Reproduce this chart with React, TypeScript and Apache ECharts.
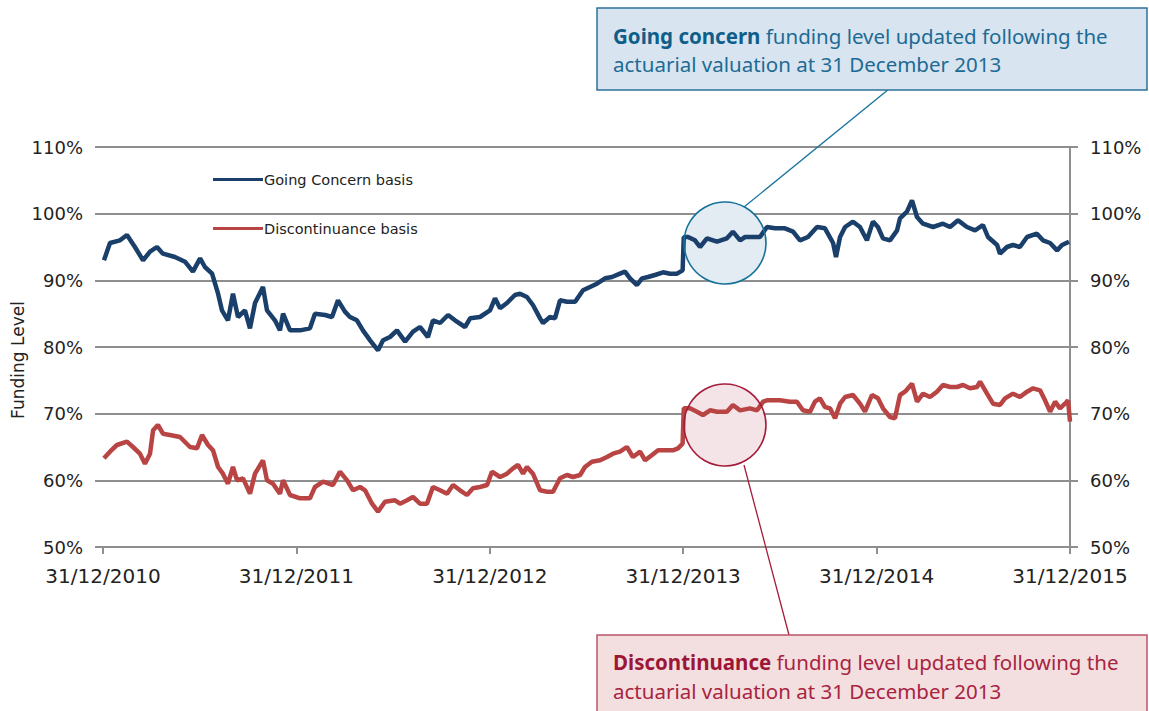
import React, { useEffect, useRef } from 'react';
import * as echarts from 'echarts';

// time in years after 31/12/2010, funding level in %
const goingConcern: [number, number][] = [
  [0.005, 93.0], [0.036, 95.6], [0.088, 96.0], [0.124, 96.8], [0.165, 95.0], [0.207, 93.0], [0.243, 94.3],
  [0.279, 95.0], [0.310, 94.0], [0.372, 93.5], [0.424, 92.8], [0.465, 91.3], [0.502, 93.3], [0.527, 92.0],
  [0.564, 91.0], [0.595, 88.0], [0.615, 85.5], [0.646, 84.0], [0.672, 88.0], [0.698, 84.5], [0.734, 85.5],
  [0.760, 82.8], [0.786, 86.6], [0.827, 89.0], [0.848, 85.5], [0.889, 84.0], [0.915, 82.5], [0.931, 85.0],
  [0.967, 82.5], [1.019, 82.5], [1.070, 82.8], [1.096, 85.0], [1.148, 84.8], [1.184, 84.5], [1.215, 87.0],
  [1.251, 85.3], [1.277, 84.5], [1.313, 84.0], [1.344, 82.5], [1.381, 81.0], [1.422, 79.5], [1.448, 81.0],
  [1.484, 81.5], [1.520, 82.5], [1.562, 80.8], [1.603, 82.3], [1.639, 83.0], [1.680, 81.5], [1.706, 84.0],
  [1.743, 83.6], [1.784, 84.8], [1.820, 84.0], [1.872, 83.0], [1.898, 84.3], [1.949, 84.5], [2.001, 85.5],
  [2.027, 87.3], [2.053, 85.8], [2.089, 86.6], [2.130, 87.8], [2.156, 88.0], [2.192, 87.5], [2.223, 86.3],
  [2.260, 84.3], [2.275, 83.6], [2.311, 84.5], [2.337, 84.3], [2.363, 87.0], [2.399, 86.8], [2.441, 86.8],
  [2.482, 88.5], [2.518, 89.0], [2.554, 89.5], [2.596, 90.3], [2.632, 90.5], [2.673, 91.0], [2.699, 91.3],
  [2.725, 90.3], [2.761, 89.3], [2.787, 90.3], [2.818, 90.5], [2.854, 90.8], [2.896, 91.2], [2.932, 91.0],
  [2.968, 91.0], [2.997, 91.5], [3.003, 96.5], [3.025, 96.5], [3.061, 96.0], [3.087, 95.0], [3.123, 96.3],
  [3.175, 95.8], [3.226, 96.3], [3.257, 97.3], [3.294, 96.0], [3.320, 96.5], [3.397, 96.5], [3.433, 98.0],
  [3.475, 97.8], [3.526, 97.8], [3.568, 97.3], [3.604, 96.0], [3.645, 96.5], [3.692, 98.0], [3.733, 97.8],
  [3.775, 95.6], [3.790, 93.5], [3.811, 96.5], [3.837, 98.0], [3.878, 98.8], [3.914, 98.0], [3.950, 96.0],
  [3.981, 98.8], [4.007, 98.0], [4.033, 96.3], [4.069, 96.0], [4.106, 97.5], [4.121, 99.3], [4.157, 100.3],
  [4.183, 102.0], [4.209, 99.5], [4.240, 98.5], [4.292, 98.0], [4.343, 98.5], [4.380, 98.0], [4.421, 99.0],
  [4.467, 98.0], [4.509, 97.5], [4.550, 98.3], [4.576, 96.5], [4.623, 95.3], [4.638, 94.0], [4.674, 95.0],
  [4.705, 95.3], [4.741, 95.0], [4.778, 96.5], [4.829, 97.0], [4.860, 96.0], [4.897, 95.6], [4.933, 94.5],
  [4.959, 95.3], [4.995, 95.8],
];

const discontinuance: [number, number][] = [
  [0.005, 63.3], [0.036, 64.3], [0.072, 65.3], [0.124, 65.8], [0.155, 65.0], [0.191, 64.0], [0.217, 62.5],
  [0.243, 64.0], [0.259, 67.5], [0.284, 68.3], [0.310, 67.0], [0.346, 66.8], [0.398, 66.5], [0.450, 65.0],
  [0.486, 64.8], [0.512, 66.8], [0.543, 65.3], [0.569, 64.5], [0.595, 62.0], [0.620, 61.0], [0.646, 59.5],
  [0.672, 62.0], [0.693, 60.0], [0.724, 60.3], [0.760, 58.0], [0.786, 61.0], [0.827, 63.0], [0.848, 60.0],
  [0.879, 59.5], [0.915, 58.0], [0.931, 60.0], [0.967, 57.8], [1.019, 57.3], [1.070, 57.3], [1.096, 59.0],
  [1.138, 59.8], [1.189, 59.3], [1.225, 61.3], [1.262, 60.0], [1.293, 58.5], [1.329, 59.0], [1.355, 58.5],
  [1.391, 56.5], [1.422, 55.3], [1.458, 56.8], [1.510, 57.0], [1.536, 56.5], [1.572, 57.0], [1.603, 57.5],
  [1.639, 56.5], [1.675, 56.5], [1.706, 59.0], [1.743, 58.5], [1.779, 58.0], [1.810, 59.3], [1.846, 58.5],
  [1.882, 57.8], [1.913, 58.8], [1.949, 59.0], [1.986, 59.3], [2.011, 61.3], [2.053, 60.5], [2.089, 61.0],
  [2.120, 61.8], [2.146, 62.3], [2.172, 61.0], [2.192, 62.0], [2.223, 61.0], [2.260, 58.5], [2.296, 58.3],
  [2.327, 58.3], [2.363, 60.3], [2.399, 60.8], [2.430, 60.5], [2.467, 60.8], [2.492, 62.0], [2.528, 62.8],
  [2.570, 63.0], [2.606, 63.5], [2.637, 64.0], [2.673, 64.3], [2.709, 65.0], [2.740, 63.5], [2.777, 64.3],
  [2.803, 63.0], [2.839, 63.8], [2.870, 64.5], [2.916, 64.5], [2.947, 64.5], [2.973, 64.8], [2.997, 65.5],
  [3.003, 70.8], [3.035, 70.8], [3.071, 70.3], [3.102, 69.8], [3.139, 70.5], [3.175, 70.3], [3.226, 70.3],
  [3.257, 71.3], [3.294, 70.5], [3.345, 70.8], [3.382, 70.5], [3.413, 71.8], [3.433, 72.0], [3.464, 72.0],
  [3.500, 72.0], [3.552, 71.8], [3.588, 71.8], [3.619, 70.5], [3.656, 70.3], [3.681, 71.8], [3.707, 72.3],
  [3.733, 71.0], [3.759, 70.8], [3.785, 69.3], [3.811, 71.5], [3.837, 72.5], [3.878, 72.8], [3.914, 71.5],
  [3.940, 70.3], [3.976, 72.8], [4.007, 72.3], [4.033, 70.8], [4.069, 69.5], [4.095, 69.3], [4.121, 72.8],
  [4.147, 73.3], [4.183, 74.5], [4.209, 71.8], [4.240, 73.0], [4.276, 72.5], [4.312, 73.3], [4.343, 74.3],
  [4.380, 74.0], [4.416, 74.0], [4.447, 74.3], [4.483, 73.8], [4.519, 74.0], [4.535, 74.8], [4.571, 73.0],
  [4.602, 71.5], [4.638, 71.3], [4.664, 72.3], [4.705, 73.0], [4.741, 72.5], [4.778, 73.3], [4.809, 73.8],
  [4.845, 73.5], [4.871, 72.0], [4.897, 70.3], [4.923, 71.8], [4.948, 70.8], [4.974, 71.5], [4.990, 72.0],
  [5.000, 68.8],
];

const xTickLabels = ['31/12/2010', '31/12/2011', '31/12/2012', '31/12/2013', '31/12/2014', '31/12/2015'];
const seriesNames = ['Going Concern basis', 'Discontinuance basis'];
const yAxisTitle = 'Funding Level';
const noteGoingConcern = ['Going concern', ' funding level updated following the', 'actuarial valuation at 31 December 2013'];
const noteDiscontinuance = ['Discontinuance', ' funding level updated following the', 'actuarial valuation at 31 December 2013'];

const BLUE = '#1b3f6b';
const RED = '#b84444';
const GRID = '#8f8f8f';
const AXIS_FONT = 'DejaVu Sans';
const NOTE_FONT = 'Noto Sans';

export default function App() {
  const ref = useRef<HTMLDivElement>(null);
  useEffect(() => {
    if (!ref.current) return;
    const chart = echarts.init(ref.current, null, { renderer: 'svg' });
    const yAxisBase = {
      type: 'value',
      min: 50,
      max: 110,
      interval: 10,
      axisLabel: {
        formatter: '{value}%',
        color: '#222',
        fontFamily: AXIS_FONT,
        fontSize: 18,
        margin: 20,
      },
      axisTick: { show: true, length: 8, lineStyle: { color: GRID, width: 2 } },
    };
    chart.setOption({
      animation: false,
      backgroundColor: '#ffffff',
      grid: { left: 103, right: 79, top: 147, bottom: 164, containLabel: false },
      legend: {
        orient: 'vertical',
        left: 208,
        top: 167,
        itemWidth: 50,
        itemHeight: 3,
        itemGap: 34,
        icon: 'rect',
        data: seriesNames,
        textStyle: { fontFamily: AXIS_FONT, fontSize: 14.5, color: '#222', padding: [0, 0, 0, -4] },
      },
      xAxis: {
        type: 'value',
        min: 0,
        max: 5,
        interval: 1,
        splitLine: { show: false },
        axisLine: { show: true, lineStyle: { color: GRID, width: 2 } },
        axisTick: { show: true, length: 7, lineStyle: { color: GRID, width: 2 } },
        axisLabel: {
          formatter: (v: number) => xTickLabels[Math.round(v)] ?? '',
          color: '#222',
          fontFamily: AXIS_FONT,
          fontSize: 20,
          margin: 19,
        },
      },
      yAxis: [
        {
          ...yAxisBase,
          position: 'left',
          axisLine: { show: false },
          splitLine: { show: true, lineStyle: { color: GRID, width: 2 } },
        },
        {
          ...yAxisBase,
          position: 'right',
          axisLine: { show: true, lineStyle: { color: GRID, width: 2 } },
          splitLine: { show: false },
        },
      ],
      series: [
        {
          name: seriesNames[0],
          type: 'line',
          data: goingConcern,
          showSymbol: false,
          lineStyle: { color: BLUE, width: 4.5 },
          itemStyle: { color: BLUE },
          z: 5,
        },
        {
          name: seriesNames[1],
          type: 'line',
          data: discontinuance,
          showSymbol: false,
          lineStyle: { color: RED, width: 4.5 },
          itemStyle: { color: RED },
          z: 5,
        },
      ],
      graphic: [
        {
          type: 'text', x: 18, y: 360, rotation: Math.PI / 2, z: 1,
          style: { text: yAxisTitle, fontFamily: AXIS_FONT, fontSize: 17, fill: '#222', align: 'center', verticalAlign: 'middle' },
        },
        { type: 'circle', z: 1, shape: { cx: 725, cy: 243, r: 41 }, style: { fill: '#e3ecf3', stroke: 'none' } },
        { type: 'circle', z: 1, shape: { cx: 725, cy: 425, r: 41 }, style: { fill: '#f5e4e7', stroke: 'none' } },
        { type: 'circle', z: 20, shape: { cx: 725, cy: 243, r: 41 }, style: { fill: 'none', stroke: '#16729a', lineWidth: 1.6 } },
        { type: 'circle', z: 20, shape: { cx: 725, cy: 425, r: 41 }, style: { fill: 'none', stroke: '#a51c3c', lineWidth: 1.6 } },
        { type: 'line', z: 20, shape: { x1: 744, y1: 207, x2: 889, y2: 89 }, style: { stroke: '#16729a', lineWidth: 1.3 } },
        { type: 'line', z: 20, shape: { x1: 744, y1: 465, x2: 789, y2: 635 }, style: { stroke: '#a51c3c', lineWidth: 1.3 } },
        { type: 'rect', z: 20, shape: { x: 597, y: 8, width: 550, height: 82 }, style: { fill: '#d8e4ef', stroke: '#2d719a', lineWidth: 1.5 } },
        { type: 'rect', z: 20, shape: { x: 597, y: 635, width: 550, height: 90 }, style: { fill: '#f3dfdf', stroke: '#bb5569', lineWidth: 1.5 } },
        {
          type: 'text', z: 21, x: 613, y: 22,
          style: {
            text: `{b|${noteGoingConcern[0]}}${noteGoingConcern[1]}\n${noteGoingConcern[2]}`,
            fontFamily: NOTE_FONT, fontSize: 20.5, lineHeight: 28, fill: '#1d6b95',
            rich: { b: { fontFamily: NOTE_FONT, fontSize: 20.5, fontWeight: 'bold', fill: '#0f5e8a', lineHeight: 28 } },
          },
        },
        {
          type: 'text', z: 21, x: 613, y: 647,
          style: {
            text: `{b|${noteDiscontinuance[0]}}${noteDiscontinuance[1]}\n${noteDiscontinuance[2]}`,
            fontFamily: NOTE_FONT, fontSize: 20.5, lineHeight: 29, fill: '#a8243f',
            rich: { b: { fontFamily: NOTE_FONT, fontSize: 20.5, fontWeight: 'bold', fill: '#9e1636', lineHeight: 29 } },
          },
        },
      ],
    });
    return () => chart.dispose();
  }, []);
  return <div ref={ref} style={{ position: 'fixed', left: 0, top: 0, width: 1149, height: 711 }} />;
}
